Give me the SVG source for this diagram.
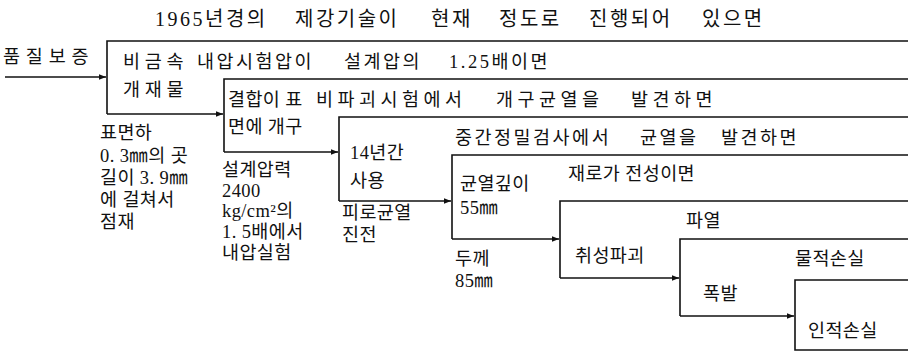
<svg xmlns="http://www.w3.org/2000/svg" width="908" height="355" viewBox="0 0 908 355">
<style>
text{font-family:"Liberation Serif","Noto Sans CJK KR",serif;font-size:18.5px;fill:#111;letter-spacing:0.4px}
.ln{stroke:#111;stroke-width:1.6;fill:none}
.t{font-size:20px;letter-spacing:2.5px}
.w25{letter-spacing:2.5px}
.w45{letter-spacing:4.5px}
</style>
<defs>
<marker id="ah" viewBox="0 0 10 10" refX="10" refY="5" markerWidth="9" markerHeight="7" markerUnits="userSpaceOnUse" orient="auto">
<path d="M0,1 L10,5 L0,9 Z" fill="#111"/>
</marker>
</defs>
<rect width="908" height="355" fill="#fff"/>
<text class="t" y="26"><tspan x="155">1965년경의</tspan><tspan x="295">제강기술이</tspan><tspan x="431">현재</tspan><tspan x="499">정도로</tspan><tspan x="589">진행되어</tspan><tspan x="702">있으면</tspan></text>
<g id="connectors">
<path class="ln" d="M5,77 H106" marker-end="url(#ah)"/>
<path class="ln" d="M107,114 H223" marker-end="url(#ah)"/>
<path class="ln" d="M224,152 H338" marker-end="url(#ah)"/>
<path class="ln" d="M339,201 H451" marker-end="url(#ah)"/>
<path class="ln" d="M452,239 H559" marker-end="url(#ah)"/>
<path class="ln" d="M560,278 H679" marker-end="url(#ah)"/>
<path class="ln" d="M680,316 H794" marker-end="url(#ah)"/>
</g>
<g id="quality">
<text x="3" y="63" textLength="86" lengthAdjust="spacing">품질보증</text>
</g>
<g id="n1">
<path class="ln" d="M908,41 H107 V114"/>
<text x="123" y="68" textLength="61" lengthAdjust="spacing">비금속</text>
<text x="123" y="96" textLength="61" lengthAdjust="spacing">개재물</text>
<text class="w25" y="68"><tspan x="197">내압시험압이</tspan><tspan x="344">설계압의</tspan><tspan x="449">1.25배이면</tspan></text>
<text x="100" y="139">표면하</text>
<text x="100" y="162">0. 3㎜의 곳</text>
<text x="100" y="184">길이 3. 9㎜</text>
<text x="100" y="206">에 걸쳐서</text>
<text x="100" y="228">점재</text>
</g>
<g id="n2">
<path class="ln" d="M908,79 H224 V152"/>
<text x="228" y="106">결합이 표</text>
<text x="228" y="133">면에 개구</text>
<text class="w45" y="106"><tspan x="316">비파괴시험에서</tspan><tspan x="496">개구균열을</tspan><tspan x="631">발견하면</tspan></text>
<text x="222" y="176">설계압력</text>
<text x="222" y="197">2400</text>
<text x="222" y="217">kg/cm²의</text>
<text x="222" y="238">1. 5배에서</text>
<text x="222" y="259">내압실험</text>
</g>
<g id="n3">
<path class="ln" d="M908,117 H339 V201"/>
<text x="350" y="159">14년간</text>
<text x="350" y="187">사용</text>
<text x="342" y="219">피로균열</text>
<text x="342" y="241">진전</text>
<text class="w25" y="144"><tspan x="455">중간정밀검사에서</tspan><tspan x="640">균열을</tspan><tspan x="721">발견하면</tspan></text>
</g>
<g id="n4">
<path class="ln" d="M908,155 H452 V239"/>
<text x="460" y="190">균열깊이</text>
<text x="460" y="214">55㎜</text>
<text x="568" y="180">재로가 전성이면</text>
<text x="455" y="265">두께</text>
<text x="455" y="287">85㎜</text>
</g>
<g id="n5">
<path class="ln" d="M908,201 H560 V278"/>
<text x="686" y="227">파열</text>
<text x="575" y="262">취성파괴</text>
</g>
<g id="n6">
<path class="ln" d="M908,239 H680 V316"/>
<text x="795" y="265">물적손실</text>
<text x="703" y="300">폭발</text>
</g>
<g id="n7">
<path class="ln" d="M908,280 H795 V350 H908"/>
<text x="808" y="337">인적손실</text>
</g>
</svg>
